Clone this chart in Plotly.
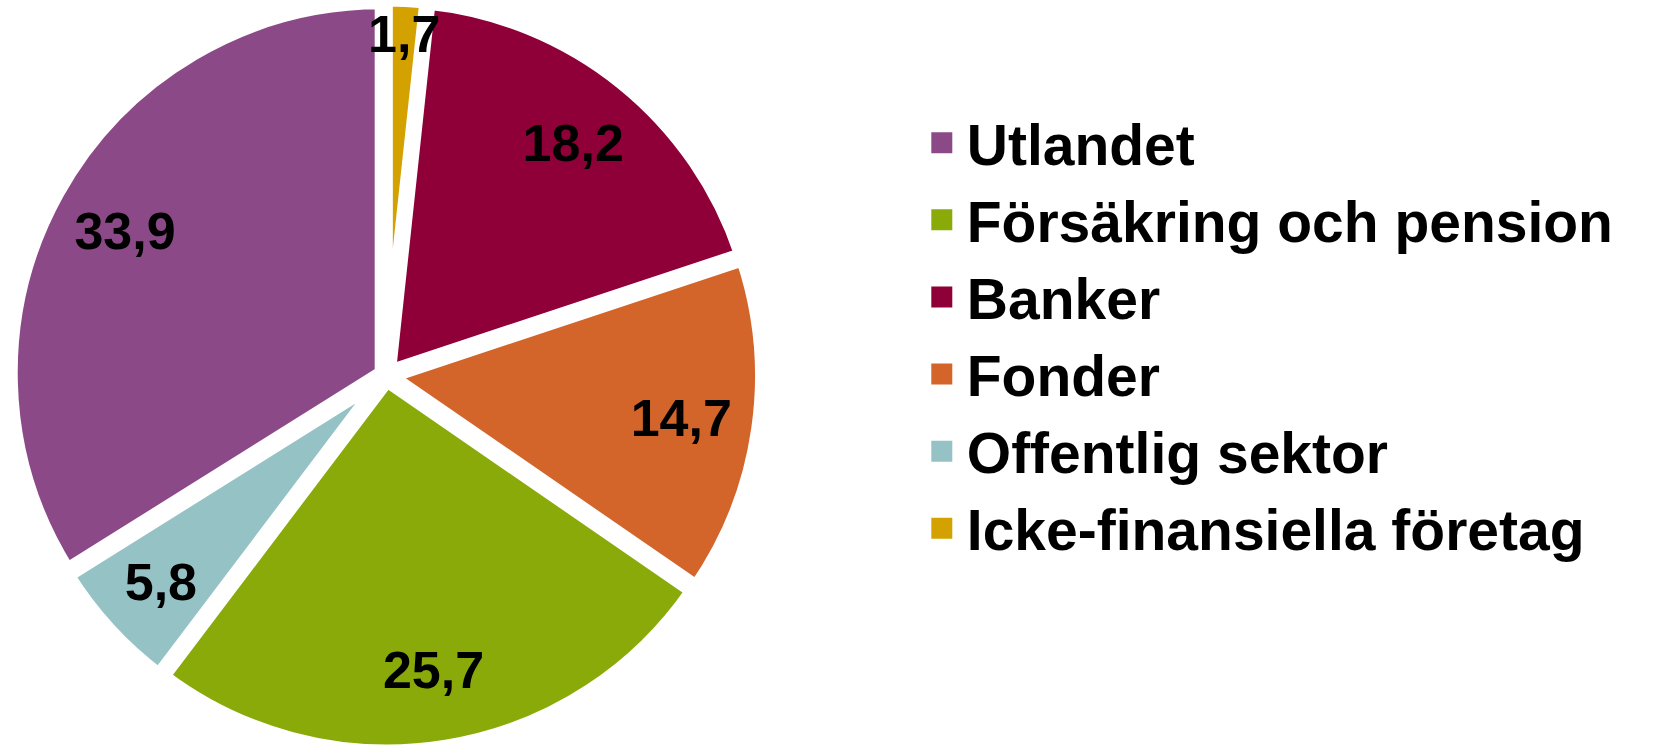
import plotly.graph_objects as go

# Slice order as drawn clockwise from 12 o'clock
slice_labels = ["Icke-finansiella företag", "Banker", "Fonder",
                "Försäkring och pension", "Offentlig sektor", "Utlandet"]
slice_values = [1.7, 18.2, 14.7, 25.7, 5.8, 33.9]

# Legend order
legend_labels = ["Utlandet", "Försäkring och pension", "Banker", "Fonder",
                 "Offentlig sektor", "Icke-finansiella företag"]

colors = {
    "Utlandet": "#8B4A87",
    "Försäkring och pension": "#8AAA0A",
    "Banker": "#8F0039",
    "Fonder": "#D3652A",
    "Offentlig sektor": "#95C2C5",
    "Icke-finansiella företag": "#D4A200",
}

FONT = "Liberation Sans, Arial, sans-serif"
dom_x = [0.0063, 0.4552]
dom_y = [0.0, 1.0]
# slightly smaller concentric domain for the label ring
lab_x = [0.0152, 0.4462]
lab_y = [0.0200, 0.9800]

fig = go.Figure()

# Main pie (colours + white separators, slightly exploded)
fig.add_trace(go.Pie(
    labels=slice_labels, values=slice_values, sort=False,
    direction="clockwise", rotation=0,
    pull=[0.015] * len(slice_labels),
    marker=dict(colors=[colors[l] for l in slice_labels],
                line=dict(color="white", width=13)),
    textinfo="none", hoverinfo="label+value", showlegend=False,
    domain=dict(x=dom_x, y=dom_y),
))

# Transparent ring overlay that carries the value labels near the rim
fig.add_trace(go.Pie(
    labels=slice_labels, values=slice_values, sort=False,
    direction="clockwise", rotation=0, hole=0.655,
    marker=dict(colors=["rgba(0,0,0,0)"] * len(slice_labels),
                line=dict(width=0)),
    texttemplate="%{value:.1f}", textposition="inside",
    insidetextorientation="horizontal",
    textfont=dict(family=FONT, size=52, color="black", weight="bold"),
    hoverinfo="skip", showlegend=False,
    domain=dict(x=lab_x, y=lab_y),
))

# Legend entries
for name in legend_labels:
    fig.add_trace(go.Scatter(
        x=[None], y=[None], mode="markers", name=name,
        marker=dict(symbol="square", size=16, color=colors[name],
                    line=dict(color=colors[name], width=5)),
        hoverinfo="skip",
    ))

fig.update_layout(
    width=1673, height=751,
    margin=dict(l=0, r=0, t=0, b=0),
    paper_bgcolor="white", plot_bgcolor="white",
    separators=", ",
    uniformtext=dict(minsize=52, mode="show"),
    xaxis=dict(visible=False), yaxis=dict(visible=False),
    legend=dict(
        x=0.548, y=0.553, xanchor="left", yanchor="middle",
        font=dict(family=FONT, size=57, color="black", weight="bold"),
        itemwidth=40, bgcolor="rgba(0,0,0,0)", traceorder="normal",
    ),
)

fig.write_html("out.html")
